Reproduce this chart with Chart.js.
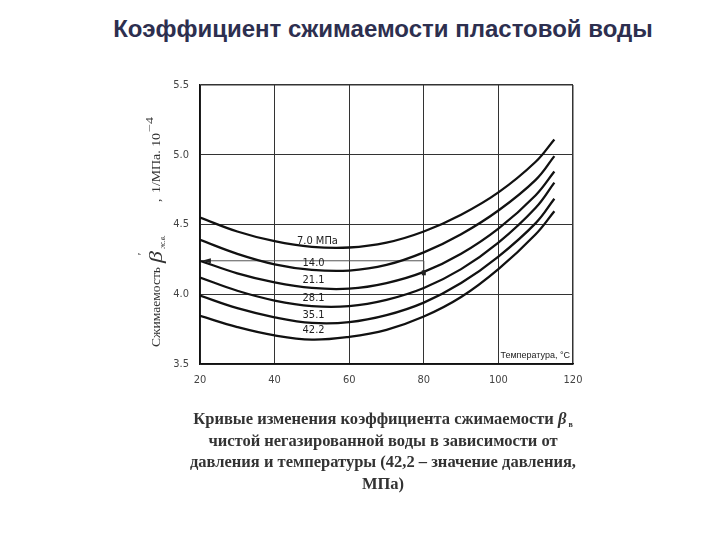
<!DOCTYPE html>
<html lang="ru">
<head>
<meta charset="utf-8">
<script src="https://cdn.jsdelivr.net/npm/chart.js@4"></script>
<style>
  body { margin: 0; background: #fff; width: 720px; height: 540px; overflow: hidden; position: relative; }
  #title { position: absolute; left: 0; top: 15px; width: 766px; text-align: center;
           font: bold 24px 'Liberation Sans', Arial, sans-serif; color: #2d2f4f; }
  #caption { position: absolute; left: 0; top: 408px; width: 766px; text-align: center;
             font: bold 16.5px 'Liberation Serif', serif; line-height: 21.7px; color: #333; }
  #caption .sb { font-size: 8px; position: relative; top: 3px; line-height: 0; }
  canvas { position: absolute; left: 0; top: 0; }
</style>
</head>
<body>
<div id="title">Коэффициент сжимаемости пластовой воды</div>
<canvas id="chart" width="720" height="540"></canvas>
<div id="caption">Кривые изменения коэффициента сжимаемости <i>β</i><span class="sb"> в</span><br>чистой негазированной воды в зависимости от<br>давления и температуры (42,2 – значение давления,<br>МПа)</div>
<script>
// температура, °C
const temps = [20, 30, 40, 50, 60, 70, 80, 90, 100, 110, 115];
// коэффициент сжимаемости, 1/МПа·10^-4, по давлениям
const beta70 = [4.55, 4.45, 4.38, 4.34, 4.335, 4.37, 4.45, 4.57, 4.73, 4.95, 5.11];
const beta140 = [4.39, 4.29, 4.215, 4.175, 4.17, 4.21, 4.30, 4.43, 4.60, 4.82, 4.99];
const beta211 = [4.24, 4.15, 4.085, 4.045, 4.04, 4.08, 4.16, 4.29, 4.47, 4.71, 4.88];
const beta281 = [4.12, 4.025, 3.955, 3.915, 3.915, 3.96, 4.045, 4.18, 4.37, 4.62, 4.80];
const beta351 = [3.99, 3.90, 3.835, 3.795, 3.80, 3.85, 3.94, 4.08, 4.27, 4.51, 4.685];
const beta422 = [3.845, 3.765, 3.705, 3.675, 3.695, 3.745, 3.84, 3.98, 4.18, 4.43, 4.595];

const pressureNames = ['7.0 МПа', '14.0', '21.1', '28.1', '35.1', '42.2'];
const labelT = [46, 47.5, 47.5, 47.5, 47.5, 47.5];
const labelBeta = [4.38, 4.22, 4.10, 3.97, 3.85, 3.745];

// пример определения (стрелка)
const exampleT = [80, 80, 20.5];
const exampleBeta = [4.15, 4.24, 4.24];

const xTicks = [20, 40, 60, 80, 100, 120];
const yTicks = [3.5, 4.0, 4.5, 5.0, 5.5];

function toPoints(xs, ys) {
    return xs.map((x, i) => ({ x: x, y: ys[i] }));
}

function fitText(ctx, text, x, y, width) {
    let w = ctx.measureText(text).width;
    ctx.save();
    ctx.translate(x, y);
    ctx.scale(width / w, 1);
    ctx.fillText(text, 0, 0);
    ctx.restore();
}

function drawYTitle(ctx) {
    ctx.save();
    ctx.translate(160, 347);
    ctx.rotate(-Math.PI / 2);
    ctx.fillStyle = '#333';
    ctx.font = "13px 'Liberation Serif', serif";
    fitText(ctx, 'Сжимаемость', 0, 0, 80);
    ctx.font = "italic 19px 'Liberation Serif', serif";
    fitText(ctx, 'β', 84, 2, 12);
    ctx.font = "italic 12px 'Liberation Serif', serif";
    ctx.fillText("'", 91, -14);
    ctx.font = "italic 8px 'Liberation Serif', serif";
    fitText(ctx, 'ж.в.', 98, 5, 14);
    ctx.font = "13px 'Liberation Serif', serif";
    ctx.fillText(',', 145, 0);
    fitText(ctx, '1/МПа. 10', 154, 0, 60);
    ctx.font = "10px 'Liberation Serif', serif";
    fitText(ctx, '−4', 215, -7, 15);
    ctx.restore();
}

const extras = {
    id: 'extras',
    afterDatasetsDraw(chart) {
        let ctx = chart.ctx, xs = chart.scales.x, ys = chart.scales.y, area = chart.chartArea;
        ctx.save();
        ctx.fillStyle = '#222';
        ctx.font = "11px 'DejaVu Sans Condensed', sans-serif";
        ctx.textBaseline = 'middle';
        pressureNames.forEach((name, i) => {
            ctx.fillText(name, xs.getPixelForValue(labelT[i]), ys.getPixelForValue(labelBeta[i]));
        });

        // наконечник стрелки и точка
        let ax = xs.getPixelForValue(exampleT[2]), ay = ys.getPixelForValue(exampleBeta[2]);
        ctx.beginPath();
        ctx.moveTo(ax, ay);
        ctx.lineTo(ax + 9, ay - 2.5);
        ctx.lineTo(ax + 9, ay + 2.5);
        ctx.closePath();
        ctx.fill();
        let mx = xs.getPixelForValue(exampleT[0]), my = ys.getPixelForValue(exampleBeta[0]);
        ctx.fillRect(mx - 2, my - 3, 4, 5);

        ctx.font = "9px 'Liberation Sans', Arial, sans-serif";
        ctx.textAlign = 'right';
        ctx.textBaseline = 'alphabetic';
        ctx.fillText('Температура, °С', area.right - 3, area.bottom - 6);
        ctx.restore();

        drawYTitle(ctx);
    }
};

let curves = [beta70, beta140, beta211, beta281, beta351, beta422].map((vals, i) => ({
    label: pressureNames[i],
    data: toPoints(temps, vals),
    borderColor: '#111',
    borderWidth: 2.3,
    pointRadius: 0,
    tension: 0.4,
    fill: false
}));

curves.push({
    label: 'пример',
    data: toPoints(exampleT, exampleBeta),
    borderColor: '#555',
    borderWidth: 1,
    pointRadius: 0,
    tension: 0,
    fill: false
});

let tickFont = { family: "'DejaVu Sans Condensed', sans-serif", size: 11 };

new Chart(document.getElementById('chart').getContext('2d'), {
    type: 'line',
    data: { datasets: curves },
    options: {
        responsive: false,
        animation: false,
        layout: { padding: { left: 0, top: 85, right: 147, bottom: 0 } },
        plugins: { legend: { display: false }, tooltip: { enabled: false } },
        scales: {
            x: {
                type: 'linear', min: 20, max: 120,
                afterBuildTicks: s => { s.ticks = xTicks.map(v => ({ value: v })); },
                afterFit: s => { s.height = 176; },
                ticks: { font: tickFont, color: '#444', padding: 10 },
                grid: { color: '#333', lineWidth: c => (c.tick && c.tick.value === 120 ? 1.5 : 1), drawTicks: false },
                border: { color: '#111', width: 1.5 }
            },
            y: {
                min: 3.5, max: 5.5,
                afterBuildTicks: s => { s.ticks = yTicks.map(v => ({ value: v })); },
                afterFit: s => { s.width = 200; },
                ticks: { font: tickFont, color: '#444', padding: 11, callback: v => v.toFixed(1) },
                grid: { color: '#333', lineWidth: c => (c.tick && c.tick.value === 5.5 ? 1.5 : 1), drawTicks: false },
                border: { color: '#111', width: 1.5 }
            }
        }
    },
    plugins: [extras]
});
</script>
</body>
</html>
